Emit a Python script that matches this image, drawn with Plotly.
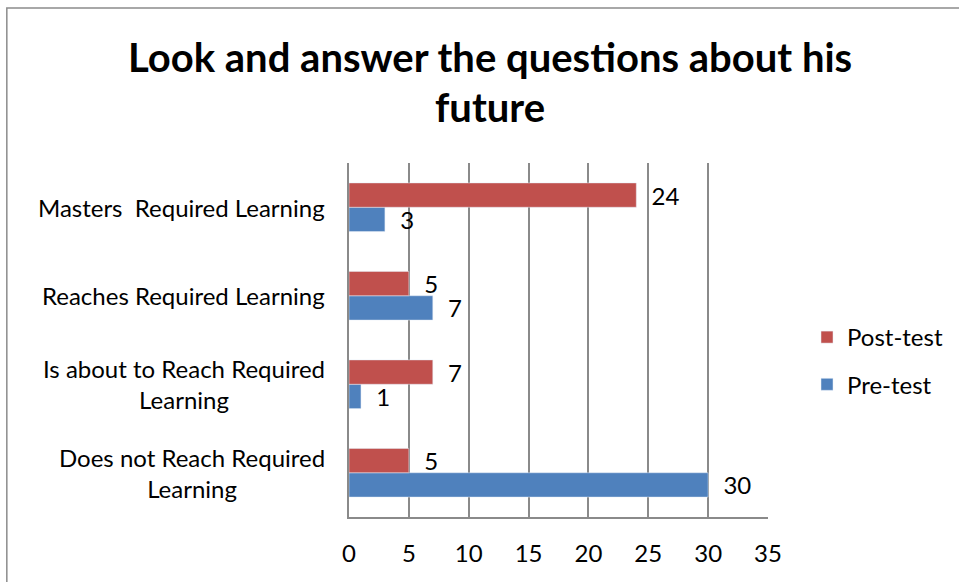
import plotly.graph_objects as go

categories = ["Does not Reach Required<br>Learning",
              "Is about to Reach Required<br>Learning",
              "Reaches Required Learning",
              "Masters  Required Learning"]
pre_test = [30, 1, 7, 3]
post_test = [5, 7, 5, 24]
x_ticks = [0, 5, 10, 15, 20, 25, 30, 35]
title_lines = ["Look and answer the questions about his", "future"]

FONT = "Lato, Calibri, 'Open Sans', sans-serif"
BLUE = "#4F81BD"
RED = "#C0504D"
GRID = "#8a8a8a"
FS = 24

W, H = 959, 582
L, R, T, B = 349, 190, 163, 65
pw, ph = W - L - R, H - T - B


def px_x(px):
    return (px - L) / pw


def px_y(py):
    return 1 - (py - T) / ph


fig = go.Figure()
fig.add_trace(go.Bar(
    y=categories, x=pre_test, name="Pre-test", orientation="h",
    marker=dict(color=BLUE), text=pre_test, texttemplate="  %{x}",
    textposition="outside", constraintext="none",
    textfont=dict(family=FONT, size=FS, color="black"), cliponaxis=False,
    legendgroup="pre", legendrank=2))
fig.add_trace(go.Bar(
    y=categories, x=post_test, name="Post-test", orientation="h",
    marker=dict(color=RED), text=post_test, texttemplate="  %{x}",
    textposition="outside", constraintext="none",
    textfont=dict(family=FONT, size=FS, color="black"), cliponaxis=False,
    legendgroup="post", legendrank=1))

annotations = []
for c in categories:
    annotations.append(dict(
        x=0, xref="paper", y=c, yref="y", text=c, showarrow=False,
        xanchor="right", yanchor="middle", align="center", xshift=-22,
        font=dict(family=FONT, size=FS, color="black")))
annotations.append(dict(
    x=px_x(490), xref="paper", y=px_y(57), yref="paper",
    text="<b>" + title_lines[0] + "</b>", showarrow=False,
    xanchor="center", yanchor="middle", font=dict(family=FONT, size=40, color="black")))
annotations.append(dict(
    x=px_x(490), xref="paper", y=px_y(107), yref="paper",
    text="<b>" + title_lines[1] + "</b>", showarrow=False,
    xanchor="center", yanchor="middle", font=dict(family=FONT, size=40, color="black")))

fig.update_layout(
    width=W, height=H,
    margin=dict(l=L, r=R, t=T, b=B, pad=0),
    paper_bgcolor="white", plot_bgcolor="white",
    barmode="group", bargap=0.45, bargroupgap=0,
    showlegend=True,
    legend=dict(x=px_x(807), xanchor="left", y=px_y(315), yanchor="top",
                traceorder="grouped", tracegroupgap=13,
                font=dict(family=FONT, size=FS, color="black"),
                bgcolor="rgba(0,0,0,0)"),
    annotations=annotations,
    shapes=[dict(type="rect", xref="paper", yref="paper",
                 x0=px_x(6), x1=px_x(975),
                 y0=px_y(600), y1=px_y(8),
                 line=dict(color="#8c8c8c", width=1.5), layer="below")],
)
fig.update_xaxes(range=[0, 35], tickvals=x_ticks, ticktext=[str(v) for v in x_ticks],
                 showgrid=True, gridcolor=GRID, gridwidth=1.5,
                 showline=True, linecolor=GRID, linewidth=1.5,
                 zeroline=False, ticks="", ticklabelstandoff=14,
                 tickfont=dict(family=FONT, size=FS, color="black"), fixedrange=True)
fig.update_yaxes(categoryorder="array", categoryarray=categories,
                 showticklabels=False, showgrid=False,
                 showline=True, linecolor=GRID, linewidth=1.5, ticks="", fixedrange=True)

fig.write_html("out.html")
